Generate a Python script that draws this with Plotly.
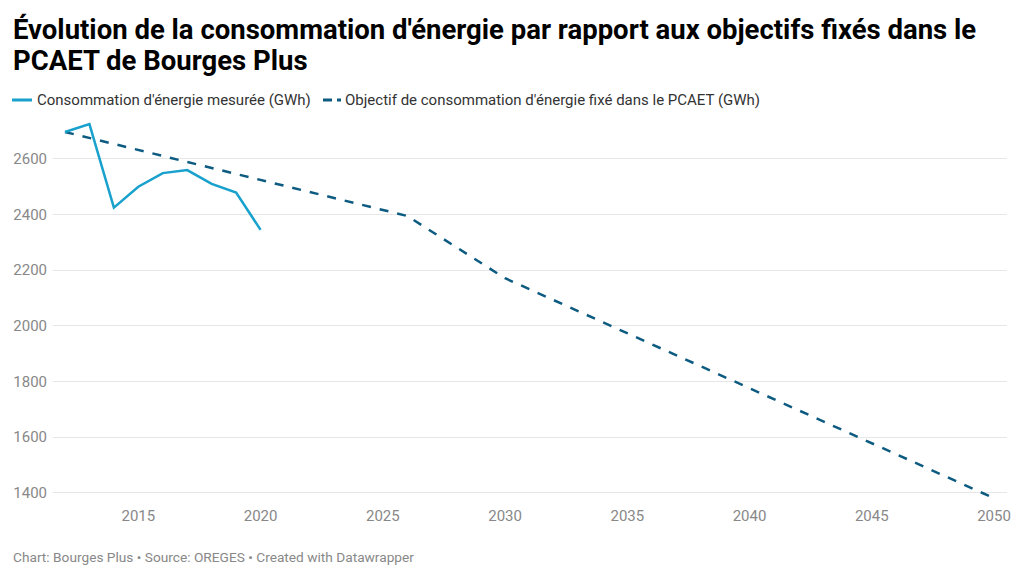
import plotly.graph_objects as go

years_measured = [2012, 2013, 2014, 2015, 2016, 2017, 2018, 2019, 2020]
conso_measured = [2697, 2725, 2425, 2500, 2549, 2560, 2510, 2479, 2345]

years_target = [2012, 2026, 2030, 2050]
conso_target = [2697, 2395, 2171, 1380]

x_ticks = [2015, 2020, 2025, 2030, 2035, 2040, 2045, 2050]
y_ticks = [1400, 1600, 1800, 2000, 2200, 2400, 2600]

title_line1 = "Évolution de la consommation d'énergie par rapport aux objectifs fixés dans le"
title_line2 = "PCAET de Bourges Plus"
legend_measured = "Consommation d'énergie mesurée (GWh)"
legend_target = "Objectif de consommation d'énergie fixé dans le PCAET (GWh)"
footer_text = "Chart: Bourges Plus • Source: OREGES • Created with Datawrapper"

COL_MEAS = "#18a1cd"
COL_TARG = "#0d5b80"
FONT = "Roboto"

W, H = 1024, 578
L, R, T, B = 53, 17, 120, 77


def px(x):
    return (x - L) / (W - L - R)


def py(y):
    return (H - B - y) / (H - T - B)


fig = go.Figure()
fig.add_trace(go.Scatter(x=years_target, y=conso_target, mode="lines",
                         line=dict(color=COL_TARG, width=2.5, dash="dash"),
                         name=legend_target, hoverinfo="x+y"))
fig.add_trace(go.Scatter(x=years_measured, y=conso_measured, mode="lines",
                         line=dict(color=COL_MEAS, width=2.5),
                         name=legend_measured, hoverinfo="x+y"))

annotations = [
    dict(text="<b>" + title_line1 + "</b>", x=px(11), y=py(30), xref="paper", yref="paper",
         xanchor="left", yanchor="middle", align="left", showarrow=False,
         font=dict(family=FONT, size=27.5, color="#000000")),
    dict(text="<b>" + title_line2 + "</b>", x=px(11), y=py(60), xref="paper", yref="paper",
         xanchor="left", yanchor="middle", align="left", showarrow=False,
         font=dict(family=FONT, size=27.5, color="#000000")),
    dict(text=legend_measured, x=px(35), y=py(100), xref="paper", yref="paper",
         xanchor="left", yanchor="middle", showarrow=False,
         font=dict(family=FONT, size=15, color="#333333")),
    dict(text=legend_target, x=px(343), y=py(100), xref="paper", yref="paper",
         xanchor="left", yanchor="middle", showarrow=False,
         font=dict(family=FONT, size=15, color="#333333")),
    dict(text=footer_text, x=px(11), y=py(557), xref="paper", yref="paper",
         xanchor="left", yanchor="middle", showarrow=False,
         font=dict(family=FONT, size=13.7, color="#888888")),
]

shapes = [
    dict(type="line", xref="paper", yref="paper", x0=px(12), x1=px(32), y0=py(100), y1=py(100),
         line=dict(color=COL_MEAS, width=3)),
    dict(type="line", xref="paper", yref="paper", x0=px(323), x1=px(341), y0=py(100), y1=py(100),
         line=dict(color=COL_TARG, width=3, dash="9px,5px,5px,5px")),
]

fig.update_layout(
    width=W, height=H,
    margin=dict(l=L, r=R, t=T, b=B, pad=0),
    paper_bgcolor="white", plot_bgcolor="white",
    showlegend=False,
    font=dict(family=FONT, size=14, color="#888888"),
    annotations=annotations,
    shapes=shapes,
    xaxis=dict(range=[2011.51, 2050.53], tickmode="array", tickvals=x_ticks,
               showgrid=False, zeroline=False, showline=False, ticks="",
               ticklabelstandoff=4,
               tickfont=dict(family=FONT, size=15, color="#888888")),
    yaxis=dict(range=[1370, 2740], tickmode="array", tickvals=y_ticks,
               showgrid=True, gridcolor="#e6e6e6", gridwidth=1,
               zeroline=False, showline=False, ticks="",
               ticklabelstandoff=5,
               tickfont=dict(family=FONT, size=15, color="#888888")),
)

fig.write_html("out.html")
